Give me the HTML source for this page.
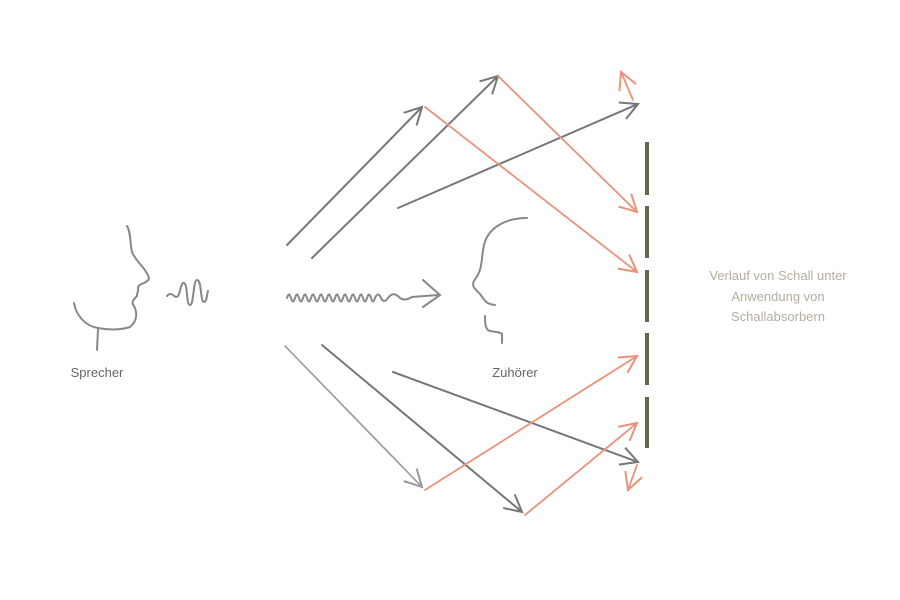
<!DOCTYPE html>
<html><head><style>
body{margin:0;background:#fff;}
svg{display:block}
text{font-family:"Liberation Sans",sans-serif;}
</style></head><body>
<svg width="900" height="600" viewBox="0 0 900 600" xmlns="http://www.w3.org/2000/svg">
<defs>
<marker id="g" markerWidth="24" markerHeight="24" refX="20" refY="12" orient="auto" markerUnits="userSpaceOnUse"><path d="M3,3 L20,12 L3,21" fill="none" stroke="#777" stroke-width="2"/></marker>
<marker id="gl" markerWidth="24" markerHeight="24" refX="20" refY="12" orient="auto" markerUnits="userSpaceOnUse"><path d="M3,3 L20,12 L3,21" fill="none" stroke="#999" stroke-width="2"/></marker>
<marker id="o" markerWidth="24" markerHeight="24" refX="20" refY="12" orient="auto" markerUnits="userSpaceOnUse"><path d="M3,3 L20,12 L3,21" fill="none" stroke="#e8937a" stroke-width="2"/></marker>
</defs>
<g fill="none" stroke-width="2" stroke-linecap="round">
<g stroke="#777">
<line x1="287" y1="245" x2="422" y2="107" marker-end="url(#g)"/>
<line x1="312" y1="258" x2="498" y2="76" marker-end="url(#g)"/>
<line x1="398" y1="208" x2="638" y2="104" marker-end="url(#g)"/>
<line x1="322" y1="345" x2="522" y2="512" marker-end="url(#g)"/>
<line x1="393" y1="372" x2="638" y2="462" marker-end="url(#g)"/>
</g>
<line x1="285" y1="346" x2="422" y2="487" stroke="#999" stroke-width="1.6" marker-end="url(#gl)"/>
<g stroke="#e8937a" stroke-width="1.8">
<line x1="498" y1="76" x2="637" y2="212" marker-end="url(#o)"/>
<line x1="425" y1="107" x2="637" y2="272" marker-end="url(#o)"/>
<line x1="633" y1="100" x2="621" y2="72" marker-end="url(#o)"/>
<line x1="425" y1="490" x2="637" y2="356" marker-end="url(#o)"/>
<line x1="525" y1="515" x2="637" y2="423" marker-end="url(#o)"/>
<line x1="637" y1="465" x2="628" y2="490" marker-end="url(#o)"/>
</g>
<g stroke="#5d6b4c" stroke-width="4" stroke-linecap="butt">
<line x1="647" y1="142" x2="647" y2="195"/>
<line x1="647" y1="206" x2="647" y2="258"/>
<line x1="647" y1="270" x2="647" y2="322"/>
<line x1="647" y1="333" x2="647" y2="385"/>
<line x1="647" y1="397" x2="647" y2="448"/>
</g>
<g stroke="#888">
<path d="M127,226 C131,232 130,245 132,252 C136,262 146,268 149,278 C148,284 138,283 138,288 C139,292 136,294 137,296 C133,300 131,303 134,306 C137,312 138,320 130,327 C120,330 108,330 98,328 C85,326 76,315 74,303"/>
<path d="M98,329 L97,350"/>
<path d="M167,296 C172,290 175,300 178,296 C181,290 181,282 184,283 C188,284 186,305 190,305 C194,305 193,280 197,280 C202,280 200,302 204,302 C207,302 207,293 208,291"/>
<path d="M287,298 Q289,291 291,298 Q293,305 295,298 Q297,291 299,298 Q301,305 303,298 Q305,291 307,298 Q309,305 311,298 Q313,291 315,298 Q317,305 319,298 Q321,291 323,298 Q325,305 327,298 Q329,291 331,298 Q333,305 335,298 Q337,291 339,298 Q341,305 343,298 Q345,291 347,298 Q349,305 351,298 Q353,291 355,298 Q357,305 359,298 Q361,291 363,298 Q365,305 367,298 Q369,291 371,298 Q373,305 375,298 Q378,291 381,298 Q384,304 388,298 Q393,291 399,297 Q404,302 412,297 L438,295"/>
<path d="M423,280 L440,295 L423,307"/>
<path d="M527,218 C505,218 488,228 484,245 C481,258 483,268 476,278 C470,285 474,288 480,294 C484,299 485,304 495,305"/>
<path d="M485,316 C485,322 485,330 490,331 C496,332 500,332 502,334 L502,343"/>
</g>
</g>
<text x="97" y="377" font-size="13" fill="#666" text-anchor="middle">Sprecher</text>
<text x="515" y="377" font-size="13" fill="#666" text-anchor="middle">Zuhörer</text>
<g font-size="13" fill="#b3ae9e" text-anchor="middle">
<text x="778" y="280">Verlauf von Schall unter</text>
<text x="778" y="301">Anwendung von</text>
<text x="778" y="321">Schallabsorbern</text>
</g>
</svg>
</body></html>
